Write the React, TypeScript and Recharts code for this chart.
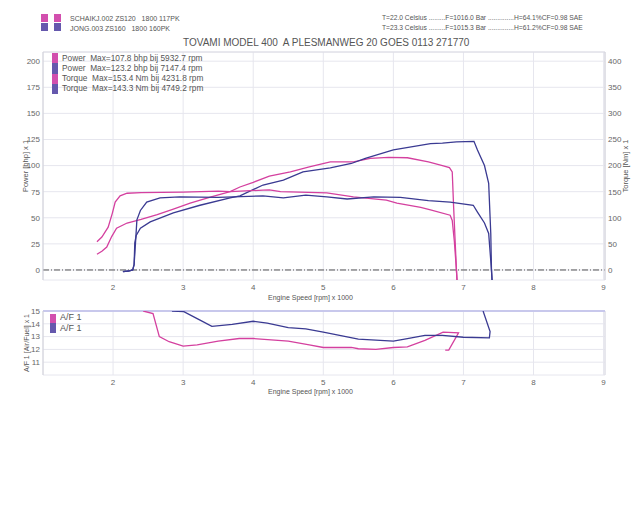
import { CartesianGrid, Line, LineChart, ReferenceLine, XAxis, YAxis } from "recharts";

const FONT = "'Liberation Sans', Arial, sans-serif";
const PINK = "#d4409f";
const BLUE = "#3a3a92";
const PINK_SWATCH = "#d24fae";
const BLUE_SWATCH = "#6558ad";
const GRID = "#e6e6ee";
const TEXT = "#555";

const RPM_TICKS = [2, 3, 4, 5, 6, 7, 8, 9];
const POWER_TICKS = [0, 25, 50, 75, 100, 125, 150, 175, 200];
const TORQUE_TICKS = [0, 50, 100, 150, 200, 250, 300, 350, 400];
const AFR_TICKS = [11, 12, 13, 14, 15];

// rpm x 1000
const pinkPowerRpm = [1.77, 1.84, 1.91, 1.98, 2.05, 2.2, 2.4, 2.63, 2.85, 3.1, 3.4, 3.67, 3.81, 4.0, 4.23, 4.53, 4.8, 5.1, 5.43, 5.67, 5.93, 6.2, 6.5, 6.7, 6.8, 6.84, 6.86, 6.88, 6.9, 6.91];
const pinkPowerBhp = [15, 18, 22, 32, 40, 45, 48.5, 53, 58, 64, 70, 75, 79.5, 84, 90, 94, 98.7, 103.6, 103.6, 107, 107.8, 107.5, 103.5, 100, 98, 94, 60, 30, 0, -12];

const bluePowerRpm = [2.14, 2.22, 2.28, 2.3, 2.31, 2.33, 2.39, 2.53, 2.86, 3.24, 3.67, 3.81, 4.14, 4.43, 4.71, 5.1, 5.4, 5.6, 6.0, 6.53, 6.7, 6.9, 7.15, 7.2, 7.3, 7.36, 7.39, 7.4, 7.41];
const bluePowerBhp = [-1.5, -1, 0, 5, 26, 33, 40, 46, 54.6, 62, 69, 71, 81.4, 86, 94, 97.7, 102, 107, 115, 121, 121.6, 122.8, 123.2, 115, 100, 83, 35, 0, -12];

const pinkTorqueRpm = [1.77, 1.84, 1.93, 1.99, 2.03, 2.1, 2.2, 2.4, 3.0, 3.5, 3.67, 4.14, 4.23, 4.39, 5.05, 5.43, 5.9, 6.05, 6.39, 6.53, 6.81, 6.84, 6.87, 6.9, 6.91];
const pinkTorqueNm = [54, 63, 82, 109, 130, 142, 147, 148, 149, 151, 150, 153, 153.4, 150, 147.6, 140, 134, 128, 120, 115, 105, 95, 55, 0, -24];

const blueTorqueRpm = [2.14, 2.22, 2.28, 2.3, 2.32, 2.34, 2.39, 2.48, 2.67, 2.95, 3.5, 4.14, 4.43, 4.75, 5.05, 5.34, 5.72, 6.1, 6.5, 6.81, 7.14, 7.2, 7.3, 7.36, 7.4, 7.41];
const blueTorqueNm = [-3, -2, 0, 10, 52, 96, 114, 130, 138, 140, 139, 142, 138, 143.3, 140, 136, 140, 139, 133, 130, 124, 111, 90, 70, 0, -24];

const pinkAfrRpm = [2.43, 2.57, 2.66, 2.8, 3.0, 3.2, 3.5, 3.8, 4.0, 4.5, 4.8, 5.0, 5.4, 5.5, 5.75, 6.0, 6.2, 6.45, 6.71, 6.93, 6.79, 6.74];
const pinkAfr = [15, 14.8, 13.0, 12.6, 12.25, 12.35, 12.65, 12.85, 12.85, 12.65, 12.35, 12.15, 12.15, 12.05, 12.0, 12.15, 12.2, 12.7, 13.35, 13.3, 11.95, 11.95];

const blueAfrRpm = [2.84, 3.01, 3.2, 3.41, 3.7, 4.0, 4.2, 4.5, 4.75, 5.0, 5.5, 6.0, 6.2, 6.45, 6.7, 7.0, 7.37, 7.38, 7.28];
const blueAfr = [15, 14.95, 14.4, 13.8, 13.95, 14.2, 14.05, 13.7, 13.6, 13.35, 12.8, 12.65, 12.85, 13.1, 13.1, 12.95, 12.9, 13.4, 15];

const LEGEND_MAIN = [
  { text: "Power  Max=107.8 bhp bij 5932.7 rpm", color: PINK_SWATCH },
  { text: "Power  Max=123.2 bhp bij 7147.4 rpm", color: BLUE_SWATCH },
  { text: "Torque  Max=153.4 Nm bij 4231.8 rpm", color: PINK_SWATCH },
  { text: "Torque  Max=143.3 Nm bij 4749.2 rpm", color: BLUE_SWATCH },
];

const zip = (xs: number[], ys: number[]) => xs.map((x, i) => ({ x, y: ys[i] }));

const tick = { fontSize: 8, fill: "#666", fontFamily: FONT };

function Abs({ x, y, size, children, rotate }: any) {
  return (
    <div
      style={{
        position: "absolute",
        left: x,
        top: y,
        fontSize: size,
        lineHeight: 1,
        whiteSpace: "pre",
        transform: rotate ? "translate(-50%, -50%) rotate(-90deg)" : undefined,
      }}
    >
      {children}
    </div>
  );
}

function Swatch({ x, y, w, h, color }: any) {
  return <div style={{ position: "absolute", left: x, top: y, width: w, height: h, background: color }} />;
}

export default function App() {
  return (
    <div
      style={{
        position: "absolute",
        left: 0,
        top: 0,
        width: 640,
        height: 521,
        background: "#fff",
        fontFamily: FONT,
        color: TEXT,
        overflow: "hidden",
      }}
    >
      <div style={{ position: "absolute", left: 0, top: 0 }}>
        <LineChart width={640} height={300} margin={{ top: 52, right: 0, bottom: 0, left: 0 }}>
          <CartesianGrid yAxisId="pw" stroke={GRID} />
          <XAxis
            type="number"
            dataKey="x"
            domain={[1, 9.02]}
            ticks={RPM_TICKS}
            interval={0}
            allowDataOverflow
            axisLine={false}
            tickLine={false}
            tickSize={0}
            tickMargin={4}
            height={20}
            tick={tick}
          />
          <YAxis
            yAxisId="pw"
            domain={[-9.6, 208.8]}
            ticks={POWER_TICKS}
            interval={0}
            allowDataOverflow
            width={43}
            axisLine={{ stroke: "#d0d0d8" }}
            tickLine={false}
            tickSize={0}
            tickMargin={3}
            tick={tick}
          />
          <YAxis
            yAxisId="tq"
            orientation="right"
            domain={[-19.2, 417.6]}
            ticks={TORQUE_TICKS}
            interval={0}
            allowDataOverflow
            width={35}
            axisLine={{ stroke: "#d0d0d8" }}
            tickLine={false}
            tickSize={0}
            tickMargin={3}
            tick={tick}
          />
          <ReferenceLine yAxisId="pw" y={208.8} stroke="#dcdce4" />
          <ReferenceLine yAxisId="pw" y={0} stroke="#555" strokeDasharray="6 2 1 2" />
          <Line yAxisId="pw" data={zip(pinkPowerRpm, pinkPowerBhp)} dataKey="y" stroke={PINK} strokeWidth={1.3} dot={false} type="linear" isAnimationActive={false} />
          <Line yAxisId="pw" data={zip(bluePowerRpm, bluePowerBhp)} dataKey="y" stroke={BLUE} strokeWidth={1.3} dot={false} type="linear" isAnimationActive={false} />
          <Line yAxisId="tq" data={zip(pinkTorqueRpm, pinkTorqueNm)} dataKey="y" stroke={PINK} strokeWidth={1.3} dot={false} type="linear" isAnimationActive={false} />
          <Line yAxisId="tq" data={zip(blueTorqueRpm, blueTorqueNm)} dataKey="y" stroke={BLUE} strokeWidth={1.3} dot={false} type="linear" isAnimationActive={false} />
        </LineChart>
      </div>

      <div style={{ position: "absolute", left: 0, top: 300 }}>
        <LineChart width={640} height={100} margin={{ top: 11, right: 35, bottom: 0, left: 0 }}>
          <CartesianGrid stroke={GRID} />
          <XAxis
            type="number"
            dataKey="x"
            domain={[1, 9.02]}
            ticks={RPM_TICKS}
            interval={0}
            allowDataOverflow
            axisLine={false}
            tickLine={false}
            tickSize={0}
            tickMargin={4}
            height={25}
            tick={tick}
          />
          <YAxis
            domain={[10, 15]}
            ticks={AFR_TICKS}
            interval={0}
            allowDataOverflow
            width={43}
            axisLine={{ stroke: "#d0d0d8" }}
            tickLine={false}
            tickSize={0}
            tickMargin={3}
            tick={tick}
          />
          <ReferenceLine x={9.02} stroke="#dcdce4" />
          <ReferenceLine y={15} stroke="#c8c8ec" strokeWidth={2} />
          <Line data={zip(pinkAfrRpm, pinkAfr)} dataKey="y" stroke={PINK} strokeWidth={1.3} dot={false} type="linear" isAnimationActive={false} />
          <Line data={zip(blueAfrRpm, blueAfr)} dataKey="y" stroke={BLUE} strokeWidth={1.3} dot={false} type="linear" isAnimationActive={false} />
        </LineChart>
      </div>

      {/* header */}
      <Swatch x={41} y={14} w={7} h={8} color={PINK_SWATCH} />
      <Swatch x={54} y={14} w={7} h={8} color={PINK_SWATCH} />
      <Swatch x={41} y={23} w={7} h={8} color={BLUE_SWATCH} />
      <Swatch x={54} y={23} w={7} h={8} color={BLUE_SWATCH} />
      <Abs x={70} y={14.5} size={7}>{"SCHAIKJ.002 ZS120   1800 117PK"}</Abs>
      <Abs x={70} y={24.5} size={7}>{"JONG.003 ZS160   1800 160PK"}</Abs>
      <Abs x={382} y={14.5} size={6.7}>{"T=22.0 Celsius .........F=1016.0 Bar ..............H=64.1%CF=0.98 SAE"}</Abs>
      <Abs x={382} y={24.5} size={6.7}>{"T=23.3 Celsius .........F=1015.3 Bar ..............H=61.2%CF=0.98 SAE"}</Abs>
      <Abs x={183} y={38} size={10}>{"TOVAMI MODEL 400  A PLESMANWEG 20 GOES 0113 271770"}</Abs>

      {/* main legend */}
      {LEGEND_MAIN.map((l, i) => (
        <div key={i}>
          <Swatch x={52} y={53 + i * 10.3} w={6} h={10.3} color={l.color} />
          <Abs x={62} y={53.5 + i * 10.3} size={8.3}>{l.text}</Abs>
        </div>
      ))}

      {/* AFR legend */}
      <Swatch x={50} y={314} w={6} h={9} color={PINK_SWATCH} />
      <Swatch x={50} y={323} w={6} h={10} color={BLUE_SWATCH} />
      <Abs x={60} y={313} size={9}>{"A/F 1"}</Abs>
      <Abs x={60} y={324} size={9}>{"A/F 1"}</Abs>

      {/* axis titles */}
      <Abs x={26} y={166} size={7.5} rotate>{"Power [bhp] x 1"}</Abs>
      <Abs x={626} y={166} size={7.5} rotate>{"Torque [Nm] x 1"}</Abs>
      <Abs x={26} y={343} size={7} rotate>{"A/F 1 [Air/Fuel] x 1"}</Abs>
      <Abs x={268} y={293.5} size={7}>{"Engine Speed [rpm] x 1000"}</Abs>
      <Abs x={268} y={387.5} size={7}>{"Engine Speed [rpm] x 1000"}</Abs>
    </div>
  );
}
